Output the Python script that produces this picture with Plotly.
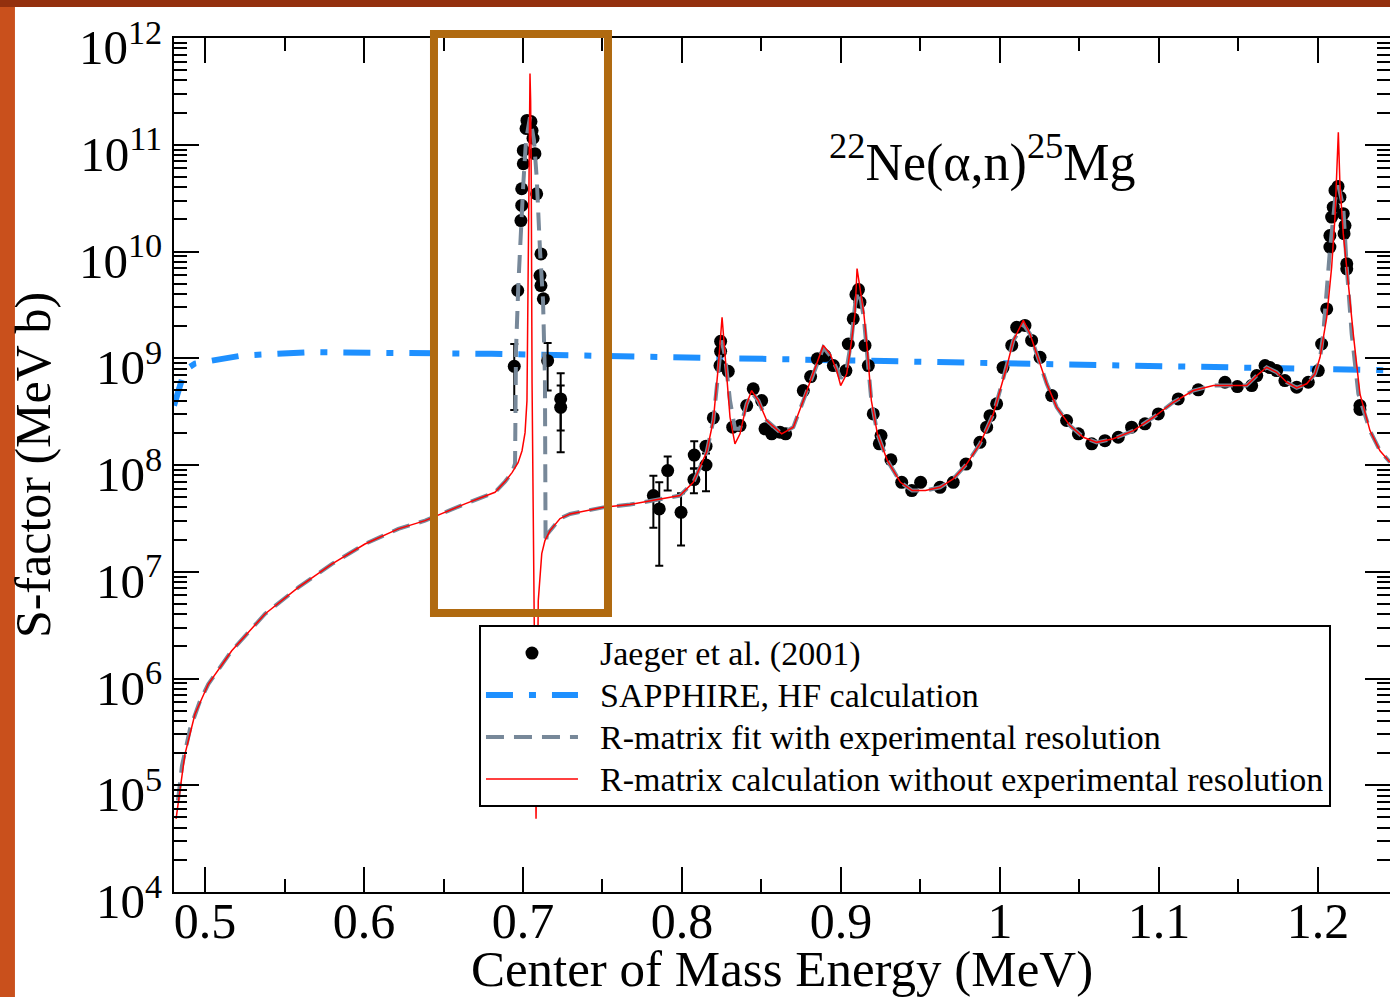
import plotly.graph_objects as go

# ---------------- data ----------------
# Jaeger et al. (2001): energy (MeV), S-factor (MeV b), upper / lower error bounds
E_data = [0.6945, 0.6967, 0.6987, 0.6992, 0.6992, 0.7002, 0.7002, 0.7019, 0.7025, 0.7041,
          0.7050, 0.7057, 0.7063, 0.7075, 0.7086, 0.7107, 0.7113, 0.7113, 0.7128, 0.7155,
          0.7237, 0.7237, 0.7820, 0.7857, 0.7910, 0.7994, 0.8077, 0.8075, 0.8151, 0.8151,
          0.8197, 0.8239, 0.8243, 0.8243, 0.8291, 0.8319, 0.8365, 0.8407, 0.8448, 0.8501,
          0.8522, 0.8564, 0.8616, 0.8652, 0.8763, 0.8809, 0.8851, 0.8899, 0.8952, 0.9031,
          0.9046, 0.9077, 0.9094, 0.9110, 0.9119, 0.9151, 0.9172, 0.9203, 0.9241, 0.9252,
          0.9314, 0.9382, 0.9445, 0.9501, 0.9623, 0.9706, 0.9786, 0.9874, 0.9916, 0.9937,
          0.9979, 1.0019, 1.0074, 1.0105, 1.0157, 1.0199, 1.0252, 1.0325, 1.0419, 1.0493,
          1.0577, 1.0660, 1.0744, 1.0828, 1.0912, 1.0996, 1.1121, 1.1247, 1.1415, 1.1493,
          1.1583, 1.1615, 1.1667, 1.1698, 1.1740, 1.1792, 1.1866, 1.1939, 1.2002, 1.2023,
          1.2055, 1.2075, 1.2075, 1.2086, 1.2096, 1.2107, 1.2126, 1.2138, 1.2159, 1.2170,
          1.2164, 1.2181, 1.2181, 1.2264, 1.2264]
S_data = [8.4e8, 4.31e9, 1.95e10, 2.7e10, 3.87e10, 6.64e10, 8.84e10, 1.42e11, 1.69e11, 1.62e11,
          1.65e11, 1.36e11, 1.15e11, 8.24e10, 3.47e10, 5.96e9, 9.5e9, 4.8e9, 3.6e9, 9.5e8,
          4.16e8, 3.47e8, 5.17e7, 3.88e7, 8.86e7, 3.6e7, 1.24e8, 7.3e7, 1.0e8, 1.5e8,
          2.76e8, 8.54e8, 1.16e9, 1.44e9, 7.55e8, 2.26e8, 2.34e8, 3.6e8, 5.17e8, 4.01e8,
          2.18e8, 1.96e8, 2.03e8, 1.96e8, 4.98e8, 6.74e8, 9.87e8, 1.06e9, 8.54e8, 7.67e8,
          1.36e9, 2.34e9, 3.95e9, 4.4e9, 3.35e9, 1.32e9, 8.54e8, 3.01e8, 1.58e8, 1.89e8,
          1.12e8, 6.88e7, 5.76e7, 6.88e7, 6.18e7, 6.88e7, 1.02e8, 1.63e8, 2.26e8, 2.9e8,
          3.74e8, 8.18e8, 1.32e9, 1.95e9, 2.03e9, 1.47e9, 1.02e9, 4.47e8, 2.61e8, 1.96e8,
          1.58e8, 1.69e8, 1.82e8, 2.26e8, 2.43e8, 3.01e8, 4.16e8, 5.06e8, 5.96e8, 5.43e8,
          5.55e8, 6.88e8, 8.54e8, 8.18e8, 7.67e8, 6.18e8, 5.35e8, 5.96e8, 7.67e8, 1.36e9,
          2.9e9, 1.1e10, 1.41e10, 2.1e10, 2.6e10, 3.73e10, 4.07e10, 3.23e10, 2.26e10, 1.75e10,
          1.47e10, 7.67e9, 6.88e9, 3.6e8, 3.31e8]
S_hi = list(S_data)
S_lo = list(S_data)
# points that carry visible error bars: index -> (upper, lower)
err_bounds = {0: (1.36e9, 3.28e8), 19: (1.39e9, 4.98e8), 20: (7.23e8, 2.1e8),
              21: (5.55e8, 1.32e8), 22: (7.95e7, 2.59e7), 23: (6.9e7, 1.14e7),
              24: (1.2e8, 5.76e7), 25: (5.43e7, 1.76e7), 26: (1.67e8, 9.25e7),
              27: (9.25e7, 5.43e7), 28: (1.28e8, 5.67e7)}
for i, (hi, lo) in err_bounds.items():
    S_hi[i] = hi
    S_lo[i] = lo

# SAPPHIRE, HF calculation
E_blue = [0.4805, 0.4824, 0.4843, 0.4862, 0.4885, 0.4937, 0.5021, 0.5231, 0.5650, 0.6048,
          0.6509, 0.6803, 0.7484, 0.8113, 0.8742, 1.0000, 1.0629, 1.1258, 1.2369, 1.2453]
S_blue = [3.6e8, 4.47e8, 5.2e8, 6.88e8, 7.96e8, 8.92e8, 9.37e8, 1.06e9, 1.14e9, 1.14e9,
          1.11e9, 1.1e9, 1.06e9, 1.02e9, 9.72e8, 8.98e8, 8.64e8, 8.27e8, 7.79e8, 7.72e8]

# R-matrix fit with experimental resolution
E_grey = [0.4830, 0.4855, 0.4906, 0.4969, 0.5021, 0.5168, 0.5377, 0.5587, 0.5797, 0.6006,
          0.6216, 0.6384, 0.6635, 0.6824, 0.6887, 0.6931, 0.6950, 0.6953, 0.6956, 0.6971,
          0.6987, 0.7002, 0.7019, 0.7044, 0.7069, 0.7086, 0.7107, 0.7126, 0.7138, 0.7138,
          0.7142, 0.7151, 0.7170, 0.7233, 0.7296, 0.7505, 0.7673, 0.7820, 0.7987, 0.8071,
          0.8155, 0.8197, 0.8228, 0.8249, 0.8270, 0.8302, 0.8333, 0.8365, 0.8407, 0.8438,
          0.8480, 0.8533, 0.8627, 0.8700, 0.8763, 0.8826, 0.8889, 0.8931, 0.8973, 0.8998,
          0.9036, 0.9067, 0.9088, 0.9107, 0.9126, 0.9144, 0.9166, 0.9191, 0.9229, 0.9292,
          0.9374, 0.9448, 0.9531, 0.9623, 0.9706, 0.9790, 0.9874, 0.9958, 1.0000, 1.0042,
          1.0084, 1.0147, 1.0189, 1.0231, 1.0294, 1.0357, 1.0440, 1.0524, 1.0608, 1.0713,
          1.0839, 1.0965, 1.1090, 1.1216, 1.1342, 1.1467, 1.1551, 1.1615, 1.1677, 1.1740,
          1.1803, 1.1866, 1.1929, 1.1981, 1.2013, 1.2033, 1.2075, 1.2107, 1.2128, 1.2159,
          1.2181, 1.2212, 1.2254, 1.2327, 1.2390, 1.2453]
S_grey = [7.2e4, 1.52e5, 3.38e5, 6.19e5, 8.88e5, 1.82e6, 4.02e6, 7.14e6, 1.18e7, 1.82e7,
          2.52e7, 3.01e7, 4.32e7, 5.55e7, 6.99e7, 8.49e7, 1.03e8, 4.01e8, 1.18e9, 4.98e9,
          1.95e10, 4.31e10, 1.1e11, 1.81e11, 1.1e11, 4.97e10, 1.02e10, 3.47e9, 6.64e8, 1.36e8,
          1.83e7, 2.23e7, 2.43e7, 3.15e7, 3.48e7, 4.01e7, 4.26e7, 4.64e7, 5.17e7, 6.88e7,
          1.32e8, 2.61e8, 7.67e8, 1.47e9, 1.06e9, 4.01e8, 2.19e8, 2.19e8, 3.74e8, 4.77e8,
          4.01e8, 2.61e8, 1.96e8, 2.26e8, 4.01e8, 7.14e8, 1.26e9, 1.06e9, 8.01e8, 6.45e8,
          8.01e8, 1.53e9, 3.12e9, 4.31e9, 3.47e9, 2.36e9, 1.13e9, 4.01e8, 1.96e8, 1.1e8,
          6.88e7, 5.76e7, 5.76e7, 6.18e7, 7.41e7, 1.02e8, 1.58e8, 3.01e8, 4.98e8, 8.23e8,
          1.47e9, 2.07e9, 1.69e9, 1.1e9, 5.76e8, 3.47e8, 2.34e8, 1.82e8, 1.63e8, 1.76e8,
          2.1e8, 2.8e8, 3.87e8, 4.98e8, 5.55e8, 5.55e8, 5.55e8, 6.88e8, 8.23e8, 7.39e8,
          5.96e8, 5.28e8, 5.76e8, 7.14e8, 9.94e8, 1.69e9, 1.02e10, 3.01e10, 4.16e10, 2.6e10,
          7.13e9, 1.69e9, 4.64e8, 2.1e8, 1.36e8, 1.06e8]

# R-matrix calculation without experimental resolution
E_red = [0.4818, 0.4843, 0.4874, 0.4937, 0.5021, 0.5168, 0.5377, 0.5587, 0.5797, 0.6006,
         0.6216, 0.6384, 0.6635, 0.6824, 0.6887, 0.6931, 0.6969, 0.6994, 0.7013, 0.7025,
         0.7031, 0.7037, 0.7041, 0.7044, 0.7048, 0.7052, 0.7057, 0.7066, 0.7075, 0.7082,
         0.7088, 0.7096, 0.7118, 0.7138, 0.7170, 0.7233, 0.7296, 0.7505, 0.7673, 0.7820,
         0.7987, 0.8071, 0.8155, 0.8197, 0.8228, 0.8252, 0.8277, 0.8302, 0.8333, 0.8365,
         0.8407, 0.8438, 0.8480, 0.8533, 0.8627, 0.8700, 0.8763, 0.8826, 0.8889, 0.8931,
         0.8973, 0.8998, 0.9036, 0.9067, 0.9088, 0.9101, 0.9123, 0.9144, 0.9166, 0.9191,
         0.9229, 0.9292, 0.9374, 0.9448, 0.9531, 0.9623, 0.9706, 0.9790, 0.9874, 0.9958,
         1.0000, 1.0042, 1.0084, 1.0147, 1.0189, 1.0231, 1.0294, 1.0357, 1.0440, 1.0524,
         1.0608, 1.0713, 1.0839, 1.0965, 1.1090, 1.1216, 1.1342, 1.1467, 1.1551, 1.1615,
         1.1677, 1.1740, 1.1803, 1.1866, 1.1929, 1.1981, 1.2013, 1.2055, 1.2086, 1.2107,
         1.2121, 1.2128, 1.2138, 1.2159, 1.2191, 1.2222, 1.2264, 1.2327, 1.2390, 1.2453]
S_red = [4.85e4, 9.5e4, 1.96e5, 4.65e5, 8.88e5, 1.82e6, 4.02e6, 7.14e6, 1.18e7, 1.82e7,
         2.52e7, 3.01e7, 4.32e7, 5.55e7, 6.99e7, 8.49e7, 1.05e8, 1.36e8, 2.01e8, 4.01e8,
         3.47e9, 4.63e10, 2.6e11, 4.66e11, 2.6e11, 4.63e10, 5.79e8, 1.58e7, 6.19e5, 4.85e4,
         2.61e5, 5.36e6, 1.48e7, 1.96e7, 2.43e7, 3.15e7, 3.48e7, 4.01e7, 4.26e7, 4.64e7,
         5.17e7, 6.88e7, 1.32e8, 2.61e8, 8.23e8, 2.42e9, 8.23e8, 2.8e8, 1.58e8, 1.96e8,
         3.74e8, 4.98e8, 4.01e8, 2.61e8, 1.96e8, 2.26e8, 4.01e8, 7.14e8, 1.32e9, 1.1e9,
         7.67e8, 5.55e8, 7.14e8, 1.47e9, 2.61e9, 6.93e9, 4.31e9, 2.61e9, 1.18e9, 4.01e8,
         1.96e8, 1.1e8, 6.88e7, 5.76e7, 5.76e7, 6.18e7, 7.41e7, 1.02e8, 1.58e8, 3.01e8,
         4.98e8, 8.23e8, 1.47e9, 2.26e9, 1.69e9, 1.1e9, 5.76e8, 3.47e8, 2.34e8, 1.82e8,
         1.63e8, 1.76e8, 2.1e8, 2.8e8, 3.87e8, 4.98e8, 5.55e8, 5.55e8, 5.55e8, 6.88e8,
         8.23e8, 7.39e8, 5.96e8, 5.28e8, 5.76e8, 7.14e8, 1.02e9, 2.42e9, 7.13e9, 2.1e10,
         6.17e10, 1.31e11, 4.31e10, 1.47e10, 4.98e9, 1.69e9, 4.64e8, 2.1e8, 1.36e8, 1.06e8]

x_tick_vals = [0.5, 0.6, 0.7, 0.8, 0.9, 1.0, 1.1, 1.2]
x_tick_text = ["0.5", "0.6", "0.7", "0.8", "0.9", "1", "1.1", "1.2"]
y_exponents = [4, 5, 6, 7, 8, 9, 10, 11, 12]

legend_names = ["Jaeger et al. (2001)", "SAPPHIRE, HF calculation",
                "R-matrix fit with experimental resolution",
                "R-matrix calculation without experimental resolution"]

# ---------------- figure ----------------
FONT = "Liberation Serif, Times New Roman, serif"


def legend_label(txt):
    # larger glyphs than the legend's nominal row height, with a small lead-in gap
    return '<span style="font-size:34px">\u00a0\u00a0' + txt + '</span>'


fig = go.Figure()

fig.add_trace(go.Scatter(
    x=E_blue, y=S_blue, mode="lines", name=legend_label(legend_names[1]),
    line=dict(color="#1E90FF", width=6, dash="27px,16px,7px,16px"), legendrank=2))

fig.add_trace(go.Scatter(
    x=E_data, y=S_data, mode="markers", name=legend_label(legend_names[0]),
    marker=dict(color="black", size=13),
    error_y=dict(type="data", symmetric=False,
                 array=[h - s for h, s in zip(S_hi, S_data)],
                 arrayminus=[s - l for s, l in zip(S_data, S_lo)],
                 color="black", thickness=2, width=4),
    legendrank=1))

fig.add_trace(go.Scatter(
    x=E_grey, y=S_grey, mode="lines", name=legend_label(legend_names[2]),
    line=dict(color="#778899", width=4, dash="18px,10px"), legendrank=3))

fig.add_trace(go.Scatter(
    x=E_red, y=S_red, mode="lines", name=legend_label(legend_names[3]),
    line=dict(color="#FF0000", width=1.5), legendrank=4))

minor_y = [k * 10 ** n for n in range(4, 12) for k in range(2, 10)]
minor_x = [0.45 + 0.1 * i for i in range(9)]

axis_common = dict(showline=True, linecolor="black", linewidth=2, mirror="ticks",
                   ticks="inside", ticklen=25, tickwidth=2, tickcolor="black",
                   showgrid=False, zeroline=False, ticklabeloverflow="allow")

fig.update_xaxes(
    range=[0.4805, 1.2453], tickmode="array", tickvals=x_tick_vals, ticktext=x_tick_text,
    tickfont=dict(family=FONT, size=50, color="black"),
    ticklabelstandoff=-16,
    minor=dict(ticks="inside", ticklen=13, tickwidth=2, tickcolor="black",
               tickmode="array", tickvals=minor_x),
    title=dict(text="Center of Mass Energy (MeV)", font=dict(family=FONT, size=51, color="black"),
               standoff=22),
    **axis_common)

fig.update_yaxes(
    type="log", range=[4, 12], tickmode="array",
    tickvals=[10 ** e for e in y_exponents],
    ticktext=["10<sup>%d</sup>" % e for e in y_exponents],
    tickfont=dict(family=FONT, size=49, color="black"),
    ticklabelshift=9,
    minor=dict(ticks="inside", ticklen=13, tickwidth=2, tickcolor="black",
               tickmode="array", tickvals=minor_y),
    title=dict(text="S-factor (MeV b)", font=dict(family=FONT, size=50, color="black"),
               standoff=12),
    **axis_common)

fig.update_layout(
    width=1390, height=997,
    margin=dict(l=174, r=0, t=38, b=105, autoexpand=False),
    paper_bgcolor="white", plot_bgcolor="white",
    font=dict(family=FONT, color="black"),
    showlegend=True,
    legend=dict(x=0.2508, y=0.3126, xanchor="left", yanchor="top",
                bgcolor="white", bordercolor="black", borderwidth=2,
                font=dict(family=FONT, size=30, color="black"),
                itemwidth=92, tracegroupgap=0),
    annotations=[dict(
        text="<sup>22</sup>Ne(\u03b1,n)<sup>25</sup>Mg", xref="paper", yref="paper",
        x=0.665, y=0.858, xanchor="center", yanchor="middle", showarrow=False,
        font=dict(family=FONT, size=52, color="black"))],
    shapes=[
        # highlight box around the 0.7 MeV resonance
        dict(type="rect", xref="paper", yref="paper", x0=0.2138, x1=0.3569, y0=0.3267, y1=1.0047,
             line=dict(color="#B06A10", width=8), layer="above"),
        # slide background strips
        dict(type="rect", xref="paper", yref="paper", x0=-0.1431, x1=-0.1308, y0=-0.124, y1=1.0445,
             line=dict(width=0), fillcolor="#C9501C", layer="above"),
        dict(type="rect", xref="paper", yref="paper", x0=-0.1431, x1=1.0, y0=1.0363, y1=1.0445,
             line=dict(width=0), fillcolor="#94300E", layer="above"),
    ],
)

fig.write_html("out.html")
